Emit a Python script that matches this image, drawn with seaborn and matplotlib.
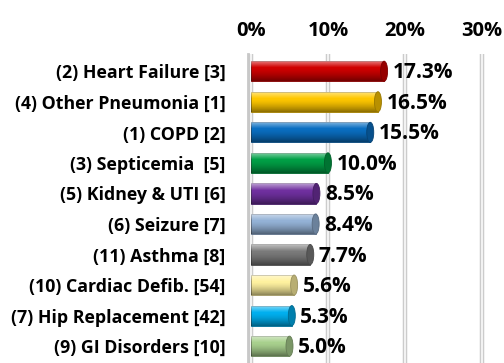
import numpy as np
import pandas as pd
import matplotlib
matplotlib.use("Agg")
import matplotlib.pyplot as plt
import matplotlib.colors as mcolors
from matplotlib.patches import Ellipse
import seaborn as sns

categories = [
    "(2) Heart Failure [3]",
    "(4) Other Pneumonia [1]",
    "(1) COPD [2]",
    "(3) Septicemia  [5]",
    "(5) Kidney & UTI [6]",
    "(6) Seizure [7]",
    "(11) Asthma [8]",
    "(10) Cardiac Defib. [54]",
    "(7) Hip Replacement [42]",
    "(9) GI Disorders [10]",
]
values = [17.3, 16.5, 15.5, 10.0, 8.5, 8.4, 7.7, 5.6, 5.3, 5.0]
bar_colors = ["#D00000", "#FFC800", "#0A6FC2", "#00A046", "#7030A0",
              "#95B3D7", "#7A7A7A", "#FFF2A0", "#00B0F0", "#A9D18E"]
tick_values = [0, 10, 20, 30]
tick_labels = ["0%", "10%", "20%", "30%"]

df = pd.DataFrame({"condition": categories, "share": values})

sns.set_theme(style="white")
plt.rcParams["font.family"] = ["Open Sans", "DejaVu Sans"]
plt.rcParams["font.weight"] = "bold"
plt.rcParams["text.color"] = "black"
plt.rcParams["xtick.color"] = "black"
plt.rcParams["ytick.color"] = "black"

fig = plt.figure(figsize=(5.04, 3.63), dpi=100)
ax = fig.add_axes([0.492, 0.0, 0.470, 0.85])

# gridlines drawn as light 3-D style rods behind the bars
for t in tick_values:
    ax.axvline(t, color="#C8C8C8", lw=3.2, zorder=0)
    ax.axvline(t, color="#F2F2F2", lw=1.6, zorder=0.1)

sns.barplot(data=df, y="condition", x="share", hue="condition",
            palette=bar_colors, legend=False, orient="h",
            width=0.66, ax=ax, zorder=2, saturation=1)

ax.set_xlim(-0.4, 30.4)
ax.set_ylim(9.55, -0.55)

# cylinder shading: gradient overlay and an end cap on every bar
px_per_unit = ax.bbox.width / (ax.get_xlim()[1] - ax.get_xlim()[0])
cap_w = 7.0 / px_per_unit
n = 64
yy = np.linspace(0, 1, n)
for patch, col in zip(ax.patches, bar_colors):
    x0, y0 = patch.get_x(), patch.get_y()
    w, h = patch.get_width(), patch.get_height()
    base = np.array(mcolors.to_rgb(col))
    dark = base * 0.6
    patch.set_edgecolor(mcolors.to_hex(dark))
    patch.set_linewidth(0.6)
    grad = np.zeros((n, 1, 4))
    # top highlight fading to transparent, then darker toward the bottom
    for i, t in enumerate(yy):
        if t < 0.35:
            a = 0.55 * (1 - t / 0.35)
            grad[i, 0] = [1, 1, 1, a]
        else:
            a = 0.45 * ((t - 0.35) / 0.65) ** 1.5
            grad[i, 0] = [0, 0, 0, a]
    im = ax.imshow(grad, extent=(x0, x0 + w, y0 + h, y0), aspect="auto",
                   origin="upper", zorder=3, interpolation="bilinear")
    im.set_clip_path(patch)
    cap = Ellipse((x0 + w, y0 + h / 2), cap_w, h,
                  facecolor=mcolors.to_hex(base * 0.72),
                  edgecolor=mcolors.to_hex(dark), lw=0.6, zorder=4)
    ax.add_patch(cap)
    ax.text(x0 + w + cap_w * 1.2, y0 + h / 2 + 0.05, f"{w:.1f}%",
            va="center", ha="left", fontsize=15, fontweight="bold",
            color="black", zorder=5)

ax.set_xticks(tick_values)
ax.set_xticklabels(tick_labels, fontsize=14.5, fontweight="bold", color="black")
ax.set_yticks(range(len(categories)))
ax.set_yticklabels(categories, fontsize=12.8, fontweight="bold", color="black")
ax.xaxis.tick_top()
ax.tick_params(axis="x", length=0, pad=10)
ax.tick_params(axis="y", length=0, pad=16)
ax.set_xlabel("")
ax.set_ylabel("")
for s in ax.spines.values():
    s.set_visible(False)
ax.spines["left"].set_visible(True)
ax.spines["left"].set_color("#C8C8C8")
ax.spines["left"].set_linewidth(2)
ax.set_facecolor("none")

fig.savefig("out.png", dpi=100, facecolor="white")
